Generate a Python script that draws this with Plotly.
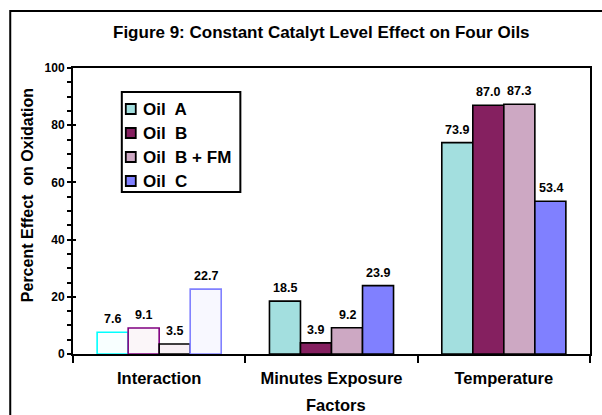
import plotly.graph_objects as go

# Percent effect on oxidation for each factor and oil
factors = ["Interaction", "Minutes Exposure", "Temperature"]
oil_names = ["Oil\u00a0 A", "Oil\u00a0 B", "Oil\u00a0 B + FM", "Oil\u00a0 C"]
oil_a = [7.6, 18.5, 73.9]
oil_b = [9.1, 3.9, 87.0]
oil_b_fm = [3.5, 9.2, 87.3]
oil_c = [22.7, 23.9, 53.4]
series = [oil_a, oil_b, oil_b_fm, oil_c]

# fill colours: the interaction bars are pale, outlined in the oil's colour
fills = [
    ["#F8FFFF", "#A3DFDF", "#A3DFDF"],
    ["#FBF6F9", "#852060", "#852060"],
    ["#F8F0F5", "#CDA8C3", "#CDA8C3"],
    ["#F8F8FF", "#8080FF", "#8080FF"],
]
outlines = [
    ["#00FFFF", "#000000", "#000000"],
    ["#800080", "#000000", "#000000"],
    ["#000000", "#000000", "#000000"],
    ["#8080FF", "#000000", "#000000"],
]
legend_fills = ["#A3DFDF", "#852060", "#CDA8C3", "#8080FF"]

FONT = "Liberation Sans, Arial, sans-serif"
BARGAP = 0.28

L, R, T, B = 73, 10, 68, 61
W, H = 602, 415
pw, ph = W - L - R, H - T - B


def px(x):
    return (x - L) / pw


def py(y):
    return (H - B - y) / ph


fig = go.Figure()
for i, (name, vals) in enumerate(zip(oil_names, series)):
    fig.add_trace(go.Bar(
        x=factors, y=vals, name=name, showlegend=False,
        marker=dict(color=fills[i], line=dict(color=outlines[i], width=1.6)),
    ))

# inner half of the crossing major ticks
fig.add_trace(go.Scatter(x=[None], y=[None], yaxis="y2", showlegend=False,
                         hoverinfo="skip"))

# value labels above each bar
bar_px = pw / len(factors) * (1 - BARGAP) / len(series)
annotations = []
for i, vals in enumerate(series):
    for j, v in enumerate(vals):
        annotations.append(dict(
            x=factors[j], y=v, xref="x", yref="y", text=f"{v:.1f}",
            showarrow=False, xanchor="center", yanchor="middle",
            xshift=(i - (len(series) - 1) / 2) * bar_px, yshift=13,
            font=dict(family=FONT, size=12.5, color="black", weight="bold"),
        ))

# legend box drawn with swatches and labels
shapes = [
    dict(type="rect", xref="paper", yref="paper",
         x0=px(10), x1=px(640), y0=py(440), y1=py(11),
         line=dict(color="black", width=2), fillcolor="rgba(0,0,0,0)"),
    dict(type="rect", xref="paper", yref="paper",
         x0=px(122), x1=px(241), y0=py(192), y1=py(92),
         line=dict(color="black", width=2), fillcolor="white"),
]
for i, name in enumerate(oil_names):
    cy = 109 + 24 * i
    shapes.append(dict(
        type="rect", xref="paper", yref="paper",
        x0=px(126), x1=px(136), y0=py(cy + 5), y1=py(cy - 5),
        line=dict(color="black", width=1.8), fillcolor=legend_fills[i],
    ))
    annotations.append(dict(
        text=name, xref="paper", yref="paper", x=px(141), y=py(cy),
        showarrow=False, xanchor="left", yanchor="middle",
        font=dict(family=FONT, size=17, color="black", weight="bold"),
    ))

annotations += [
    dict(text="Figure 9: Constant Catalyt Level Effect on Four Oils",
         xref="paper", yref="paper", x=px(322), y=py(32),
         showarrow=False, xanchor="center", yanchor="middle",
         font=dict(family=FONT, size=17, color="black", weight="bold")),
    dict(text="Percent Effect\u00a0 on Oxidation", textangle=-90,
         xref="paper", yref="paper", x=px(27), y=py(195),
         showarrow=False, xanchor="center", yanchor="middle",
         font=dict(family=FONT, size=16, color="black", weight="bold")),
    dict(text="Factors", xref="paper", yref="paper",
         x=px(337), y=py(405), showarrow=False,
         xanchor="center", yanchor="middle",
         font=dict(family=FONT, size=16.5, color="black", weight="bold")),
]

fig.update_layout(
    width=W, height=H,
    margin=dict(l=L, r=R, t=T, b=B),
    paper_bgcolor="white", plot_bgcolor="white",
    barmode="group", bargap=BARGAP, bargroupgap=0,
    font=dict(family=FONT, color="black"),
    showlegend=False,
    xaxis=dict(
        type="category", showline=True, linecolor="black", linewidth=2,
        mirror=True, ticks="outside", tickson="boundaries", ticklen=7,
        tickwidth=2, tickcolor="black", showgrid=False,
        tickfont=dict(family=FONT, size=16.5, color="black", weight="bold"),
        ticklabelstandoff=8,
    ),
    yaxis=dict(
        range=[0, 100], dtick=20, showline=True, linecolor="black",
        linewidth=2, mirror=True, ticks="outside", ticklen=4, tickwidth=1.5,
        tickcolor="black", showgrid=False, zeroline=False,
        tickfont=dict(family=FONT, size=12, color="black", weight="bold"),
        minor=dict(dtick=5, ticks="outside", ticklen=4, tickwidth=1.5,
                   tickcolor="black", showgrid=False),
    ),
    yaxis2=dict(
        overlaying="y", side="left", range=[0, 100], dtick=20,
        ticks="inside", ticklen=3, tickwidth=1.5, tickcolor="black",
        showticklabels=False, showgrid=False, zeroline=False, showline=False,
    ),
    shapes=shapes,
    annotations=annotations,
)

fig.write_html("out.html")
